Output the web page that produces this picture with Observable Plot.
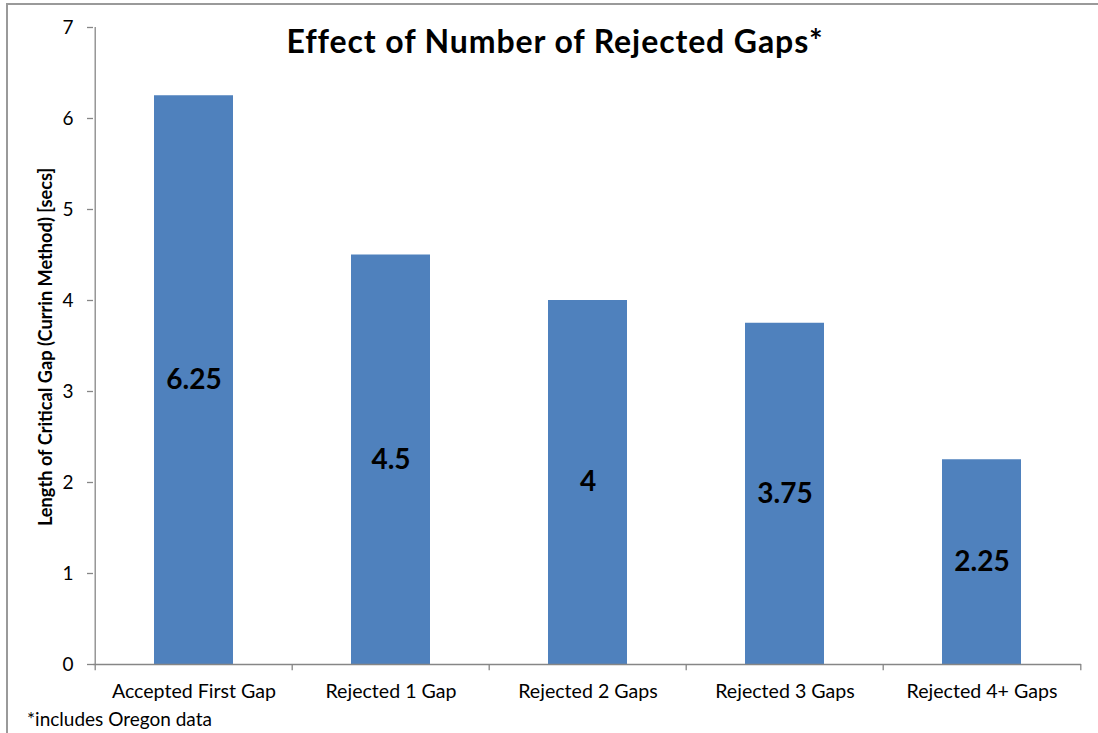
<!DOCTYPE html>
<html>
<head>
<meta charset="utf-8">
<script src="https://cdn.jsdelivr.net/npm/d3@7"></script>
<script src="https://cdn.jsdelivr.net/npm/@observablehq/plot@0.6"></script>
<style>
  body { margin: 0; background: #fff; }
  #wrap { position: relative; width: 1098px; height: 733px; overflow: hidden; font-family: Lato, "Open Sans", sans-serif; }
  #frame { position: absolute; left: 6px; top: 3px; width: 1200px; height: 900px; border-left: 2px solid #9a9a9a; border-top: 2px solid #9a9a9a; }
  #title { position: absolute; left: 0; width: 1110px; top: 25px; line-height: 1; text-align: center; font-weight: bold; font-size: 32px; letter-spacing: 0.9px; color: #000; }
  #ylabel { position: absolute; left: 45px; top: 347px; line-height: 1; transform: translate(-50%, -50%) rotate(-90deg); white-space: nowrap; font-weight: bold; font-size: 18.2px; color: #000; }
  #foot { position: absolute; left: 27px; top: 709px; line-height: 1; font-size: 19px; color: #000; }
  #chart { position: absolute; left: 0; top: 0; }
</style>
</head>
<body>
<div id="wrap">
  <div id="frame"></div>
  <div id="chart"></div>
  <div id="title">Effect of Number of Rejected Gaps*</div>
  <div id="ylabel">Length of Critical Gap (Currin Method) [secs]</div>
  <div id="foot">*includes Oregon data</div>
</div>
<script>
const categories = ["Accepted First Gap", "Rejected 1 Gap", "Rejected 2 Gaps", "Rejected 3 Gaps", "Rejected 4+ Gaps"];
const values = [6.25, 4.5, 4, 3.75, 2.25];
const yTicks = [0, 1, 2, 3, 4, 5, 6, 7];

const data = categories.map((c, i) => ({category: c, value: values[i]}));

const W = 1098, H = 733, mL = 93, mR = 17, mT = 27, mB = 69;
const half = (W - mL - mR) / categories.length / 2;
const axisColor = "#868686";

const chart = Plot.plot({
  width: W,
  height: H,
  marginLeft: mL,
  marginRight: mR,
  marginTop: mT,
  marginBottom: mB,
  style: {fontFamily: "Lato, 'Open Sans', sans-serif", fontSize: "19px", color: "#000", background: "transparent"},
  x: {domain: categories, paddingInner: 0.6, paddingOuter: 0.3, label: null},
  y: {domain: [0, 7], label: null},
  marks: [
    Plot.barY(data, {x: "category", y: "value", fill: "#4F81BD"}),
    Plot.ruleY([0], {stroke: axisColor, strokeWidth: 1.3}),
    Plot.ruleX([categories[0]], {x: d => d, y1: 0, y2: 7, dx: -half, stroke: axisColor, strokeWidth: 1.3}),
    Plot.ruleX(categories, {x: d => d, y1: 0, y2: -0.07, dx: -half, stroke: axisColor, strokeWidth: 1.3}),
    Plot.ruleX([categories[categories.length - 1]], {x: d => d, y1: 0, y2: -0.07, dx: half, stroke: axisColor, strokeWidth: 1.3}),
    Plot.axisY(yTicks, {tickSize: 6, tickPadding: 14, stroke: axisColor, strokeWidth: 1.3, color: "#000", fontSize: 19, tickFormat: d => String(d), label: null}),
    Plot.axisX(categories, {tickSize: 0, tickPadding: 20, fontSize: 19.6, label: null, color: "#000"}),
    Plot.text(data, {x: "category", y: d => d.value / 2, text: d => String(d.value), fontSize: 28, fontWeight: "bold", fill: "#000"})
  ]
});
document.getElementById("chart").appendChild(chart);
</script>
</body>
</html>
